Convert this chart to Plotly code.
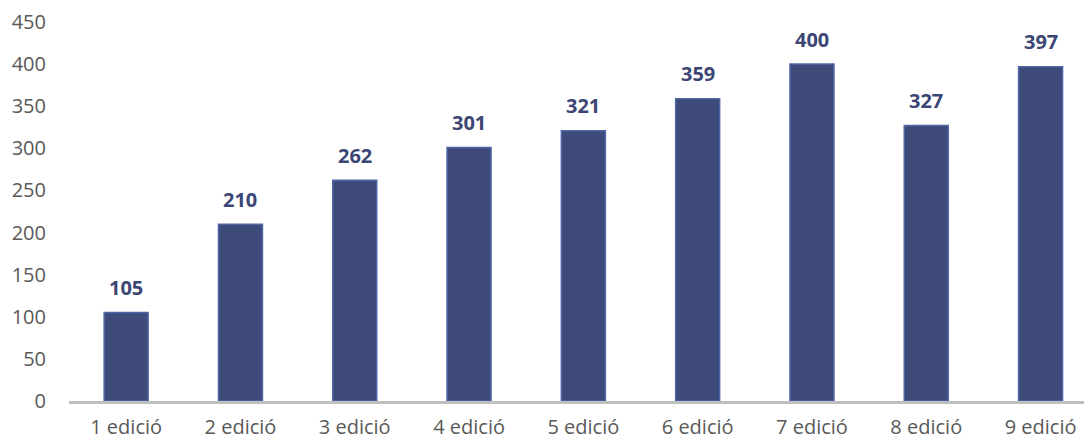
import plotly.graph_objects as go

categories = ["1 edició", "2 edició", "3 edició", "4 edició", "5 edició",
              "6 edició", "7 edició", "8 edició", "9 edició"]
values = [105, 210, 262, 301, 321, 359, 400, 327, 397]
y_ticks = [0, 50, 100, 150, 200, 250, 300, 350, 400, 450]

fig = go.Figure()
fig.add_trace(go.Bar(
    x=categories, y=values,
    marker=dict(color="#3D4A7A", line=dict(color="#4F67A6", width=1.5)),
    hoverinfo="skip",
))

for c, v in zip(categories, values):
    fig.add_annotation(x=c, y=v, text=f"<b>{v}</b>", showarrow=False,
                       yshift=25, font=dict(family="Open Sans", size=20, color="#3B4674"))

fig.update_layout(
    width=1084, height=441,
    margin=dict(l=69, r=0, t=22, b=40),
    paper_bgcolor="white", plot_bgcolor="white",
    bargap=0.615,
    showlegend=False,
    font=dict(family="Open Sans", size=20, color="#595959"),
)
fig.update_xaxes(
    range=[-0.5, 8.38],
    showline=True, linecolor="#BFBFBF", linewidth=3,
    ticks="", showgrid=False, tickfont=dict(size=20, color="#595959"),
    ticklabelstandoff=6,
)
fig.update_yaxes(
    range=[0, 450], tickvals=y_ticks, showgrid=False, zeroline=False,
    showline=False, ticks="", tickfont=dict(size=20, color="#595959"),
    ticklabelstandoff=22,
)
fig.write_html("out.html", config={"displayModeBar": False},
               post_script="document.body.style.margin='0';")
